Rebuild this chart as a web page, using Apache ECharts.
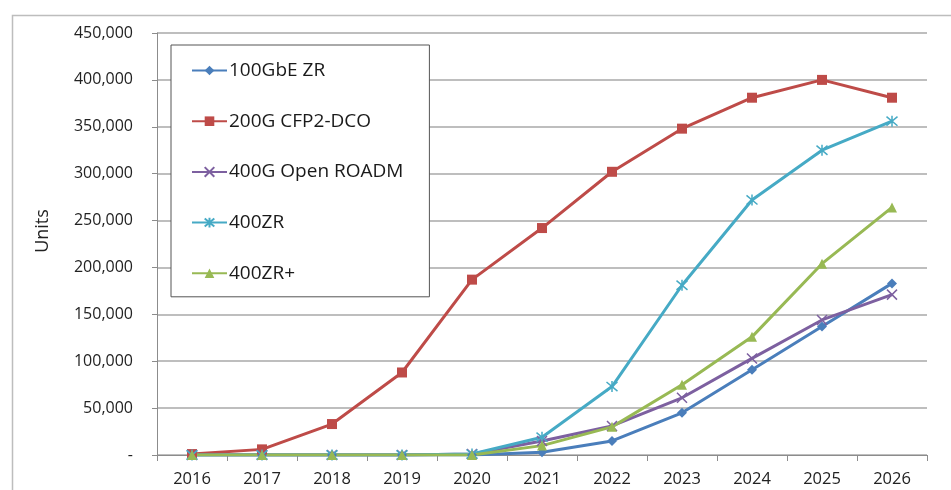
<!DOCTYPE html>
<html><head><meta charset="utf-8">
<script src="https://cdn.jsdelivr.net/npm/echarts@6/dist/echarts.min.js"></script>
<style>html,body{margin:0;padding:0;background:#fff}#c{width:951px;height:490px}</style>
</head><body><div id="c"></div>
<script>
const years = ['2016','2017','2018','2019','2020','2021','2022','2023','2024','2025','2026'];
const s100GbeZR = [0, 0, 0, 0, 0, 3000, 15000, 45000, 91000, 137000, 183000];
const s200gCfp2 = [1000, 6000, 33000, 88000, 187000, 242000, 302000, 348000, 381000, 400000, 381000];
const s400gRoadm = [0, 0, 0, 0, 1000, 15000, 31000, 61000, 103000, 144000, 171000];
const s400ZR = [0, 0, 0, 0, 1000, 19000, 73000, 181000, 272000, 325000, 356000];
const s400ZRplus = [0, 0, 0, 0, 0, 10000, 30000, 75000, 126000, 204000, 264000];
const seriesNames = ['100GbE ZR','200G CFP2-DCO','400G Open ROADM','400ZR','400ZR+'];
const yTicks = {min: 0, max: 450000, interval: 50000};
const yTitle = 'Units';

const FONT = '"Open Sans", Lato, sans-serif';
const colors = ['#4A7EBB','#BE4B48','#7D60A0','#46AAC5','#98B954'];
const xPath = 'path://M0,0L10,10M10,0L0,10';
const starPath = 'path://M0,0L10,10M10,0L0,10M5,-1L5,11';

function mk(name, data, color, symbol, size, stroke) {
  return {
    name, type: 'line', data, symbol, symbolSize: size,
    lineStyle: {color, width: 3},
    itemStyle: stroke ? {color, borderColor: color, borderWidth: 1.5} : {color},
    emphasis: {disabled: true}, animation: false
  };
}

const chart = echarts.init(document.getElementById('c'), null, {renderer: 'canvas'});
chart.setOption({
  backgroundColor: '#fff',
  graphic: [
    {type: 'rect', left: 10, top: 13, shape: {width: 960, height: 500}, style: {fill: 'none', stroke: '#bdbdbd', lineWidth: 1.5}, z: -10},
    {type: 'text', x: 43, y: 231, rotation: Math.PI / 2,
     style: {text: yTitle, fontFamily: FONT, fontSize: 18, fill: '#222', align: 'center', verticalAlign: 'middle'}}
  ],
  grid: {left: 157, right: 24, top: 33, bottom: 35},
  legend: {
    orient: 'vertical', left: 171, top: 45,
    data: seriesNames,
    itemWidth: 35, itemHeight: 12, itemGap: 31.7,
    padding: [16, 26, 14, 20],
    borderColor: '#555', borderWidth: 1, backgroundColor: '#fff',
    textStyle: {fontFamily: FONT, fontSize: 19, color: '#1a1a1a', padding: [0,0,0,-3]},
    selectedMode: false
  },
  xAxis: {
    type: 'category', data: years, boundaryGap: true,
    axisLine: {lineStyle: {color: '#8c8c8c', width: 1}},
    axisTick: {show: true, length: 6, lineStyle: {color: '#8c8c8c'}},
    axisLabel: {fontFamily: FONT, fontSize: 16.5, color: '#222', margin: 16}
  },
  yAxis: {
    type: 'value', min: yTicks.min, max: yTicks.max, interval: yTicks.interval,
    axisLine: {show: true, lineStyle: {color: '#8c8c8c'}},
    axisTick: {show: true, length: 5, lineStyle: {color: '#8c8c8c'}},
    splitLine: {lineStyle: {color: '#a8a8a8', width: 1.5}},
    axisLabel: {fontFamily: FONT, fontSize: 16, color: '#222', margin: 24,
      formatter: v => v === 0 ? '-' : v.toLocaleString('en-US')}
  },
  series: [
    mk(seriesNames[0], s100GbeZR, colors[0], 'diamond', 10, false),
    mk(seriesNames[1], s200gCfp2, colors[1], 'rect', 10, false),
    mk(seriesNames[2], s400gRoadm, colors[2], xPath, 10, true),
    mk(seriesNames[3], s400ZR, colors[3], starPath, 11, true),
    mk(seriesNames[4], s400ZRplus, colors[4], 'triangle', 10, false)
  ]
});
</script></body></html>
